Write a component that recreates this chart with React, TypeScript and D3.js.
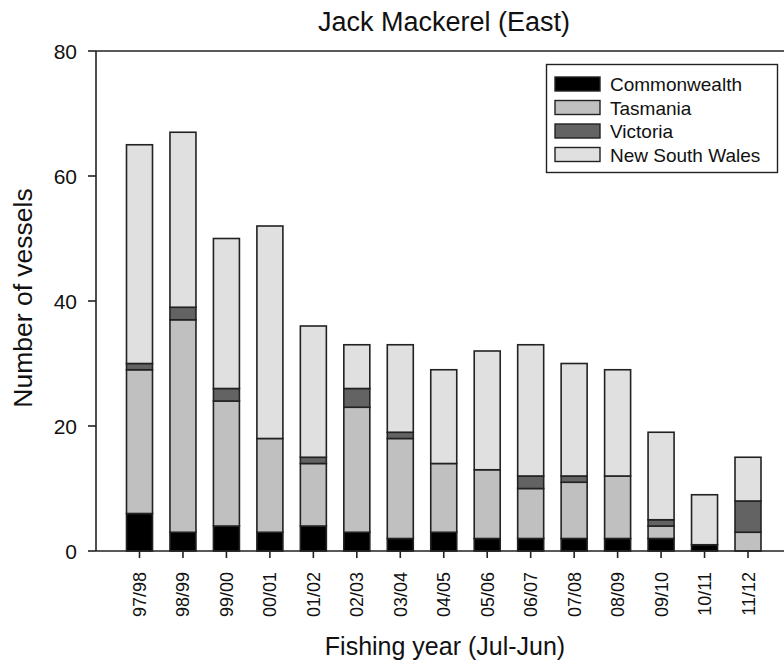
import React from "react";
import * as d3 from "d3";

const categories = ["97/98","98/99","99/00","00/01","01/02","02/03","03/04","04/05","05/06","06/07","07/08","08/09","09/10","10/11","11/12"];
const commonwealth = [6,3,4,3,4,3,2,3,2,2,2,2,2,1,0];
const tasmania = [23,34,20,15,10,20,16,11,11,8,9,10,2,0,3];
const victoria = [1,2,2,0,1,3,1,0,0,2,1,0,1,0,5];
const nsw = [35,28,24,34,21,7,14,15,19,21,18,17,14,8,7];
const seriesNames = ["Commonwealth","Tasmania","Victoria","New South Wales"];
const seriesColors = ["#000000","#c0c0c0","#636363","#e0e0e0"];
const yTicks = [0,20,40,60,80];

const W = 784, H = 664;
const FONT = "'Liberation Sans', Arial, sans-serif";

export default function App() {
  const rows = categories.map((c, i) => ({
    cat: c,
    Commonwealth: commonwealth[i],
    Tasmania: tasmania[i],
    Victoria: victoria[i],
    "New South Wales": nsw[i],
  }));
  const stacked = d3.stack<any>().keys(seriesNames)(rows);
  const y = d3.scaleLinear().domain([0, 80]).range([551, 51]);
  const x = d3.scalePoint<string>().domain(categories).range([139.5, 748]);
  const bw = 26;
  const axisLeft = 96;

  return (
    <svg width={W} height={H} style={{ position: "absolute", left: 0, top: 0, background: "#fff" }} fontFamily={FONT}>
      <rect x={0} y={0} width={W} height={H} fill="#fff" />
      {stacked.map((s, si) => (
        <g key={s.key}>
          {s.map((d, i) => {
            const h = y(d[0]) - y(d[1]);
            if (h <= 0) return null;
            return (
              <rect key={i} x={x(categories[i])! - bw / 2} y={y(d[1])} width={bw} height={h}
                fill={seriesColors[si]} stroke="#222" strokeWidth={1.6} />
            );
          })}
        </g>
      ))}
      <line x1={axisLeft} x2={W} y1={y(0)} y2={y(0)} stroke="#222" strokeWidth={1.6} />
      <line x1={axisLeft} x2={W} y1={y(80)} y2={y(80)} stroke="#222" strokeWidth={1.6} />
      <line x1={axisLeft} x2={axisLeft} y1={y(0)} y2={y(80)} stroke="#222" strokeWidth={1.6} />
      {yTicks.map((t) => (
        <g key={t}>
          <line x1={axisLeft - 8} x2={axisLeft} y1={y(t)} y2={y(t)} stroke="#222" strokeWidth={1.6} />
          <text x={77} y={y(t)} dy="0.36em" textAnchor="end" fontSize={21} fill="#111">{t}</text>
        </g>
      ))}
      {categories.map((c) => (
        <g key={c}>
          <line x1={x(c)} x2={x(c)} y1={y(0)} y2={y(0) + 7} stroke="#222" strokeWidth={1.6} />
          <text transform={`translate(${x(c)! + 6.5},572) rotate(-90)`} textAnchor="end" fontSize={18} fill="#111">{c}</text>
        </g>
      ))}
      <text x={444} y={31} textAnchor="middle" fontSize={27} fill="#111">Jack Mackerel (East)</text>
      <text x={445} y={655} textAnchor="middle" fontSize={25} fill="#111">Fishing year (Jul-Jun)</text>
      <text transform="translate(32,298) rotate(-90)" textAnchor="middle" fontSize={26.5} fill="#111">Number of vessels</text>
      <rect x={546.5} y={64.5} width={231} height={108} fill="#fff" stroke="#222" strokeWidth={1.4} />
      {seriesNames.map((n, i) => (
        <g key={n}>
          <rect x={555} y={77 + i * 23.5} width={45} height={14} fill={seriesColors[i]} stroke="#222" strokeWidth={1.4} />
          <text x={610} y={91 + i * 23.5} fontSize={19} fill="#111">{n}</text>
        </g>
      ))}
    </svg>
  );
}
